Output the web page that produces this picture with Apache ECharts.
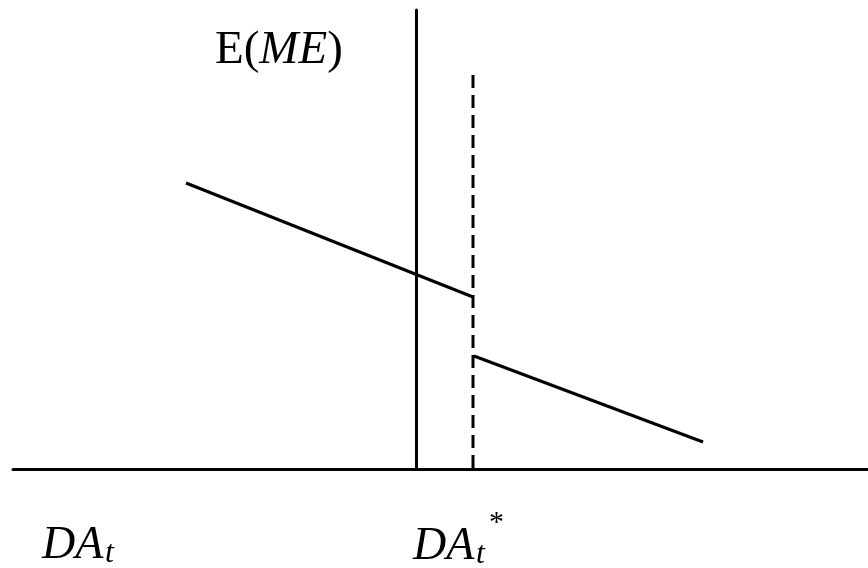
<!DOCTYPE html>
<html>
<head>
<meta charset="utf-8">
<script src="https://cdn.jsdelivr.net/npm/echarts@6/dist/echarts.min.js"></script>
<style>
  html, body { margin: 0; padding: 0; background: #fff; }
  #main { width: 868px; height: 568px; }
</style>
</head>
<body>
<div id="main"></div>
<script>
// diagram units (horizontal: DA_t, vertical: E(ME)); origin where the two axes cross
var xRange = [-403, 452]
var yRange = [0, 459]

// E(ME) before and after the threshold DA_t*
var upperSegment = [[-230, 286], [57, 172]]
var lowerSegment = [[58, 113], [287, 27]]

// threshold DA_t*
var thresholdX = 57
var thresholdTop = 394

var serif = '"Liberation Serif", "DejaVu Serif", serif'

var chart = echarts.init(document.getElementById('main'))

function txt(x, y, text, size, italic) {
  return {
    type: 'text',
    x: x,
    y: y,
    style: {
      text: text,
      font: (italic ? 'italic ' : '') + size + 'px ' + serif,
      fill: '#000',
      align: 'left',
      verticalAlign: 'middle'
    }
  }
}

chart.setOption({
  animation: false,
  backgroundColor: '#fff',
  grid: { left: 13, right: 0, top: 10, bottom: 99 },
  xAxis: {
    type: 'value',
    min: xRange[0],
    max: xRange[1],
    axisLine: { show: true, onZero: false, lineStyle: { color: '#000', width: 3 } },
    axisTick: { show: false },
    axisLabel: { show: false },
    splitLine: { show: false }
  },
  yAxis: {
    type: 'value',
    min: yRange[0],
    max: yRange[1],
    axisLine: { show: true, onZero: true, lineStyle: { color: '#000', width: 3 } },
    axisTick: { show: false },
    axisLabel: { show: false },
    splitLine: { show: false }
  },
  series: [
    {
      type: 'line',
      data: upperSegment,
      symbol: 'none',
      lineStyle: { color: '#000', width: 3 }
    },
    {
      type: 'line',
      data: lowerSegment,
      symbol: 'none',
      lineStyle: { color: '#000', width: 3 }
    },
    {
      type: 'line',
      data: [[thresholdX, thresholdTop], [thresholdX, 0]],
      symbol: 'none',
      lineStyle: { color: '#000', width: 3, type: [13, 7] }
    }
  ],
  graphic: [
    {
      type: 'text',
      x: 215,
      y: 51,
      style: {
        text: '{r|E(}{i|ME}{r|)}',
        font: '47px ' + serif,
        fill: '#000',
        align: 'left',
        verticalAlign: 'middle',
        rich: {
          r: { fontFamily: serif, fontSize: 47, fontStyle: 'normal', color: '#000' },
          i: { fontFamily: serif, fontSize: 47, fontStyle: 'italic', color: '#000' }
        }
      }
    },
    txt(42, 546, 'DA', 46, true),
    txt(105, 554, 't', 32, true),
    txt(413, 547, 'DA', 46, true),
    txt(476, 555, 't', 32, true),
    txt(489, 523, '*', 30, false)
  ]
})
</script>
</body>
</html>
